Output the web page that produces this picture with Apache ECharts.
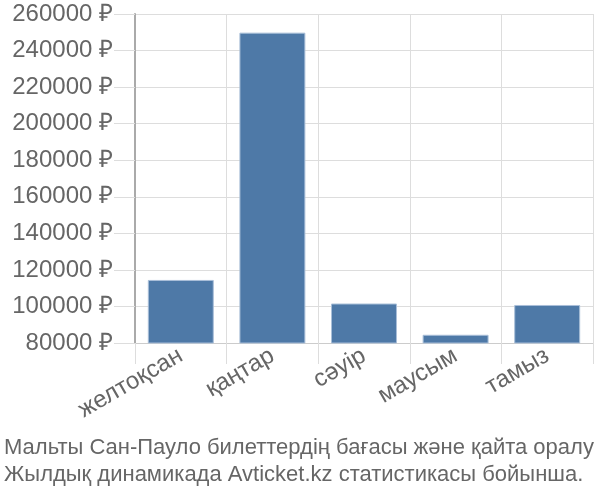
<!DOCTYPE html>
<html>
<head>
<meta charset="utf-8">
<script src="https://cdn.jsdelivr.net/npm/echarts@6/dist/echarts.min.js"></script>
<style>
  html, body { margin: 0; padding: 0; background: #fff; }
  #main { width: 600px; height: 500px; }
</style>
</head>
<body>
<div id="main"></div>
<script>
var months = ['желтоқсан', 'қаңтар', 'сәуір', 'маусым', 'тамыз'];
var prices = [114500, 249800, 101600, 84500, 100800];
var titleLines = [
    'Мальты Сан-Пауло билеттердің бағасы және қайта оралу',
    'Жылдық динамикада Avticket.kz статистикасы бойынша.'
];

var font = '"Liberation Sans", Arial, sans-serif';

var option = {
    backgroundColor: '#fff',
    animation: false,
    title: {
        text: titleLines.join('\n'),
        left: -1,
        top: 429,
        textStyle: {
            fontFamily: font,
            fontSize: 22,
            fontWeight: 'normal',
            color: '#666',
            lineHeight: 27
        }
    },
    grid: {
        left: 135,
        right: 7,
        top: 14,
        bottom: 157
    },
    xAxis: {
        type: 'category',
        data: months,
        axisLine: { show: true, lineStyle: { color: '#ccc', width: 1 } },
        axisTick: { show: true, length: 21, lineStyle: { color: '#ddd' } },
        splitLine: { show: true, lineStyle: { color: '#ddd' } },
        axisLabel: {
            rotate: 30,
            margin: 11,
            fontFamily: font,
            fontSize: 24,
            color: '#666'
        }
    },
    yAxis: {
        type: 'value',
        min: 80000,
        max: 260000,
        interval: 20000,
        axisLine: { show: true, lineStyle: { color: '#aaa', width: 2 } },
        axisTick: { show: true, length: 21, lineStyle: { color: '#ddd' } },
        splitLine: { show: true, lineStyle: { color: '#ddd' } },
        axisLabel: {
            margin: 22,
            fontFamily: font,
            fontSize: 24,
            color: '#666',
            formatter: function (v) { return v + ' ₽'; }
        }
    },
    series: [{
        type: 'bar',
        data: prices,
        barCategoryGap: '28%',
        itemStyle: {
            color: '#4e79a7',
            borderColor: '#a9bfd8',
            borderWidth: 1
        }
    }]
};

var myChart = echarts.init(document.getElementById('main'));
myChart.setOption(option);
</script>
</body>
</html>
